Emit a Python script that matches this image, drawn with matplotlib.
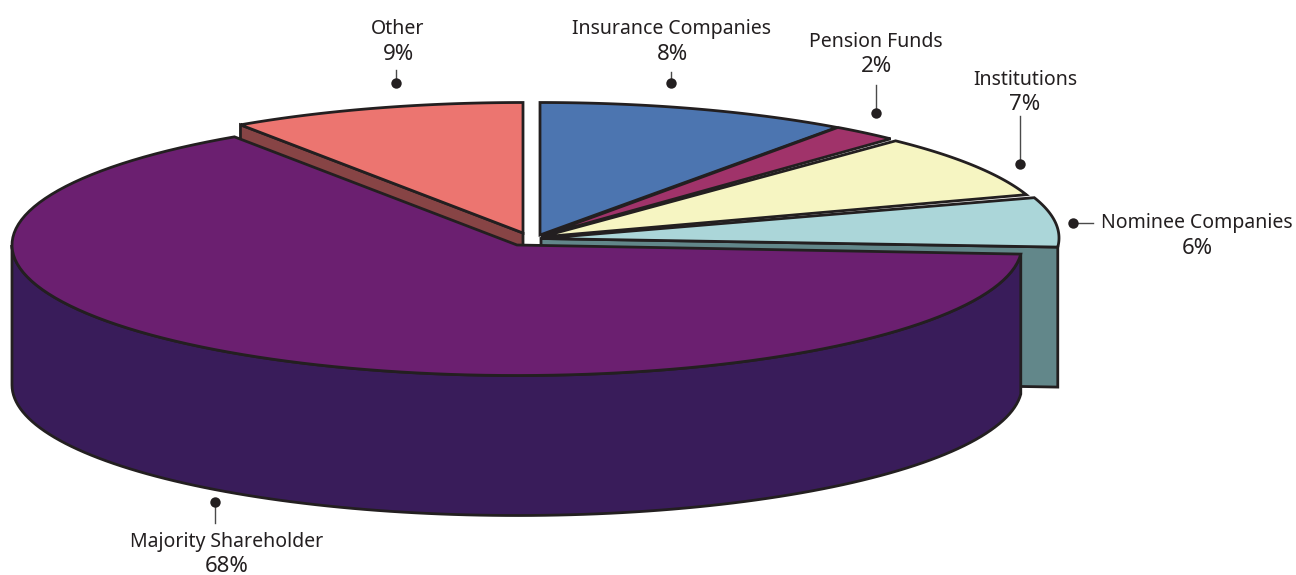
import numpy as np
import matplotlib
matplotlib.use('Agg')
import matplotlib.pyplot as plt

# Legend text and the percentages printed in the chart
labels = ['Insurance Companies', 'Pension Funds', 'Institutions', 'Nominee Companies', 'Majority Shareholder', 'Other']
printed_pct = [8, 2, 7, 6, 68, 9]

# Slice sizes as actually drawn (% of the circle), clockwise from 12 o'clock
drawn_share = [10.0, 2.17, 7.83, 6.11, 64.44, 9.45]

top_colors = ['#4c75b0', '#a0336a', '#f6f5c2', '#abd6d9', '#6b1f70', '#ec7570']
side_colors = [None, None, None, '#62878a', '#391c5a', '#874445']

EDGE = '#231f20'
RX, RY = 505, 130.5
DEPTH = 140
LW = 2.0

# rim centre and apex of each slice, in pixels
centres = [(540, 233), (541, 233), (546, 235), (554, 238), (517, 245), (523, 233)]
apexes = [(540, 235), (541, 236), (541, 237), (541, 238.5), (517, 245), (523, 233)]

# text centre x, name y, pct y, dot x, dot y, leader end x, leader end y
label_pos = [
    (672, 29, 54, 671, 83, 671, 72),
    (876, 42, 67, 876, 113, 876, 85),
    (1025, 80, 105, 1020, 164, 1020, 116),
    (1197, 223, 249, 1073, 223, 1093, 223),
    (227, 542, 567, 215, 502, 215, 523),
    (398, 29, 54, 396, 83, 396, 70),
]


def rim(centre, t0, t1, n=120):
    """Points on the ellipse; t is degrees clockwise from the top."""
    t = np.radians(np.linspace(t0, t1, n))
    return centre[0] + RX * np.sin(t), centre[1] - RY * np.cos(t)


def draw_top(ax, i, t0, t1):
    x, y = rim(centres[i], t0, t1)
    ax.fill(np.r_[apexes[i][0], x], np.r_[apexes[i][1], y], facecolor=top_colors[i],
            edgecolor=EDGE, linewidth=LW, joinstyle='miter')


def draw_flat_side(ax, i, t):
    # the cut face of a slice, most of it gets hidden by the big slice
    x, y = rim(centres[i], t, t, 1)
    ax_x = [apexes[i][0], x[0], x[0], apexes[i][0]]
    ax_y = [apexes[i][1], y[0], y[0] + DEPTH, apexes[i][1] + DEPTH]
    ax.fill(ax_x, ax_y, facecolor=side_colors[i], edgecolor=EDGE, linewidth=LW, joinstyle='miter')


def draw_round_side(ax, i, t0, t1):
    x, y = rim(centres[i], t0, t1)
    ax.fill(np.r_[x, x[::-1]], np.r_[y, y[::-1] + DEPTH], facecolor=side_colors[i],
            edgecolor=EDGE, linewidth=LW)


fig = plt.figure(figsize=(12.96, 5.75), dpi=100)
ax = fig.add_axes([0, 0, 1, 1])
ax.set_xlim(0, 1296)
ax.set_ylim(575, 0)
ax.axis('off')

edges = np.r_[0, np.cumsum(drawn_share)] * 3.6

# back to front
draw_flat_side(ax, 5, edges[5])
draw_top(ax, 5, edges[5], edges[6])
draw_top(ax, 0, edges[0], edges[1])
draw_top(ax, 1, edges[1], edges[2])
draw_flat_side(ax, 3, edges[4])
draw_top(ax, 3, edges[3], edges[4])
draw_top(ax, 2, edges[2], edges[3])
draw_round_side(ax, 4, edges[4], 270)
draw_top(ax, 4, edges[4], edges[5])

for name, pct, pos in zip(labels, printed_pct, label_pos):
    tx, y1, y2, dx, dy, lx, ly = pos
    ax.plot([dx, lx], [dy, ly], color='#4a4a4a', lw=1.0, zorder=5)
    ax.plot(dx, dy, 'o', color=EDGE, ms=7.5, mew=0, zorder=6)
    ax.text(tx, y1, name, ha='center', va='center', fontsize=14, color=EDGE, family='Noto Sans')
    ax.text(tx, y2, f'{pct}%', ha='center', va='center', fontsize=16, color=EDGE, family='Noto Sans')

fig.savefig('out.png', dpi=100)
